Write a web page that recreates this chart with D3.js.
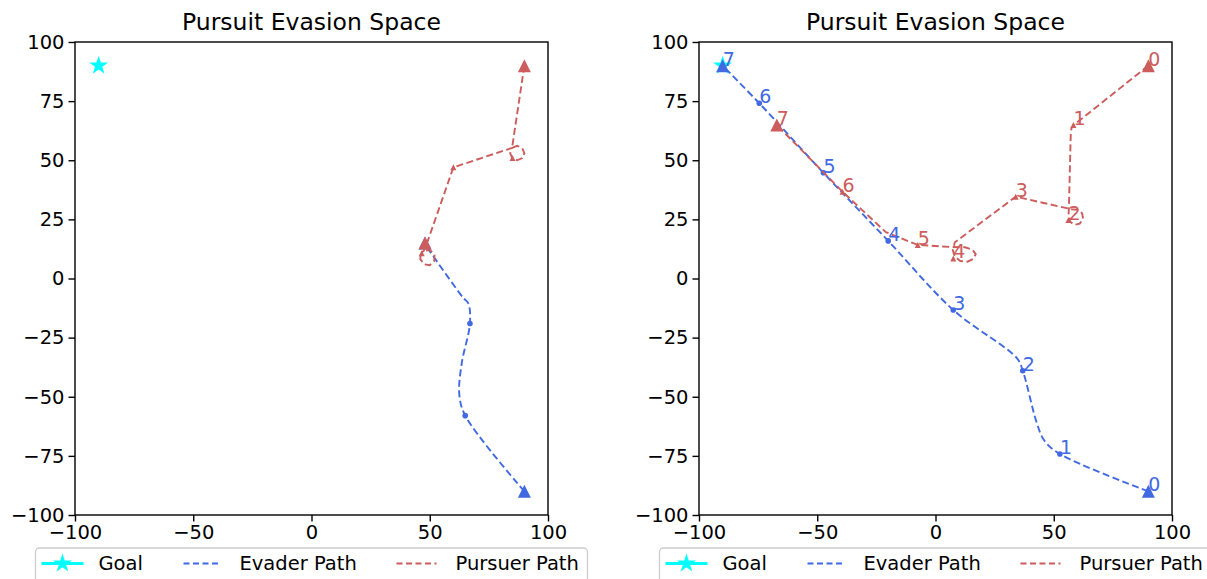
<!DOCTYPE html>
<html>
<head>
<meta charset="utf-8">
<script src="https://d3js.org/d3.v7.min.js"></script>
<style>
  body { margin: 0; background: #fff; }
  text { font-family: "DejaVu Sans", sans-serif; }
</style>
</head>
<body>
<div id="chart"></div>
<script>
const xTicks = [-100, -50, 0, 50, 100];
const yTicks = [-100, -75, -50, -25, 0, 25, 50, 75, 100];
const titleText = 'Pursuit Evasion Space';
const legendLabels = ['Goal', 'Evader Path', 'Pursuer Path'];
const goal = [-90, 90];

// left panel: waypoints (markers) and the drawn trace
const leftEvaderMarks = [[90, -90], [65, -58], [67, -19], [48, 15]];
const leftEvaderPath = [[90, -90], [65, -58], [62.5, -49], [63.5, -36], [67, -19], [66.3, -10.5], [64, -8], [49, 13]];
const leftPursuerMarks = [[90, 90], [85, 51], [60, 47], [46.6, 10.7], [48, 15]];
const leftPursuerPath = [[90, 90], [84.8, 55.2], [87, 56.1], [89.1, 55.1], [90, 53], [89.1, 50.9], [87, 50], [84.9, 50.9], [84, 53], [84.8, 55.2],
  [60, 47], [48.5, 14], [47.5, 11.8], [46.2, 10.6], [46, 8.2], [47.6, 6], [50, 5.6], [51.9, 7.4], [52, 10], [50.2, 12], [47.5, 11.8]];

// right panel
const rightEvaderMarks = [[90, -90], [52.6, -74.2], [36.9, -39], [7.5, -13.3], [-20, 15.9], [-47.4, 44.7], [-74.5, 74.1], [-90, 90]];
const rightEvaderPath = [[90, -90], [52.6, -74.2], [46, -68.5], [42.8, -61], [36.9, -39], [34.5, -33.8], [7.5, -13.3],
  [-20, 15.9], [-47.4, 44.7], [-74.5, 74.1], [-90, 90]];
const rightPursuerMarks = [[90, 90], [58.3, 64.9], [56.2, 24.7], [33.9, 34.6], [7.5, 8.5], [-7.5, 14.2], [-39.3, 36.7], [-67.1, 64.9]];
const rightPursuerPath = [[90, 90], [58.6, 65], [57.5, 63.6], [57.2, 61.5], [56.4, 29.5], [56.2, 26.5], [56.9, 24], [58.8, 22.7], [61, 23.2],
  [62.4, 25.3], [62, 27.6], [60.2, 29], [57.5, 29.3], [33.9, 34.6], [8.2, 15.3], [7.3, 12], [8.2, 9.2], [10.5, 7.4], [13.5, 7.1],
  [16, 8.3], [17, 10.3], [15.6, 12.2], [12.5, 13.2], [7, 13.3], [-7.5, 14.2], [-21, 19.6], [-39.3, 36.7], [-67.1, 64.9]];

const panels = [
  { left: 75, evMarks: leftEvaderMarks, evPath: leftEvaderPath, puMarks: leftPursuerMarks, puPath: leftPursuerPath, labels: false },
  { left: 699, evMarks: rightEvaderMarks, evPath: rightEvaderPath, puMarks: rightPursuerMarks, puPath: rightPursuerPath, labels: true }
];

const width = 1207, height = 579;
const plotTop = 42, size = 473;
const blue = '#4169e1', red = '#cd5c5c', cyan = '#00ffff';

const svg = d3.select('#chart').append('svg')
  .attr('width', width).attr('height', height);

const x = d3.scaleLinear().domain([-100, 100]).range([0, size]);
const y = d3.scaleLinear().domain([-100, 100]).range([size, 0]);

function tri(h) {
  return `M0,${-h}L${h},${h}L${-h},${h}Z`;
}
function star(r) {
  const pts = [];
  for (let i = 0; i < 10; i++) {
    const rr = i % 2 ? r * 0.382 : r;
    const a = -Math.PI / 2 + i * Math.PI / 5;
    pts.push([rr * Math.cos(a), rr * Math.sin(a)]);
  }
  return 'M' + pts.map(p => p.join(',')).join('L') + 'Z';
}

const smoothLine = d3.line().x(d => x(d[0])).y(d => y(d[1])).curve(d3.curveCatmullRom.alpha(0.5));
const straightLine = d3.line().x(d => x(d[0])).y(d => y(d[1]));

panels.forEach(p => {
  const g = svg.append('g').attr('transform', `translate(${p.left},${plotTop})`);

  g.append('text')
    .attr('x', size / 2).attr('y', -12)
    .attr('text-anchor', 'middle')
    .style('font-size', '23.5px')
    .text(titleText);

  const xa = g.append('g').attr('transform', `translate(0,${size})`)
    .call(d3.axisBottom(x).tickValues(xTicks).tickSize(6.5).tickPadding(4));
  const ya = g.append('g')
    .call(d3.axisLeft(y).tickValues(yTicks).tickSize(6.5).tickPadding(4));
  [xa, ya].forEach(a => {
    a.select('.domain').remove();
    a.attr('font-size', 19.5).attr('font-family', '"DejaVu Sans", sans-serif');
    a.selectAll('line').attr('stroke', '#000').attr('stroke-width', 1.4);
    a.selectAll('text').attr('fill', '#000');
  });

  // goal
  g.append('path').attr('d', star(10))
    .attr('transform', `translate(${x(goal[0])},${y(goal[1])})`)
    .attr('fill', cyan);

  const series = [
    { marks: p.evMarks, path: p.evPath, color: blue, small: 'dot', line: smoothLine },
    { marks: p.puMarks, path: p.puPath, color: red, small: 'tri', line: straightLine }
  ];
  series.forEach(s => {
    g.append('path').datum(s.path)
      .attr('d', s.line)
      .attr('fill', 'none')
      .attr('stroke', s.color)
      .attr('stroke-width', 1.9)
      .attr('stroke-dasharray', '7,3.5');
    const n = s.marks.length;
    s.marks.forEach((m, i) => {
      const big = i === 0 || i === n - 1;
      if (big) {
        g.append('path').attr('d', tri(6.5))
          .attr('transform', `translate(${x(m[0])},${y(m[1])})`)
          .attr('fill', s.color);
      } else if (s.small === 'dot') {
        g.append('circle').attr('cx', x(m[0])).attr('cy', y(m[1]))
          .attr('r', 2.8).attr('fill', s.color);
      } else {
        g.append('path').attr('d', tri(3))
          .attr('transform', `translate(${x(m[0])},${y(m[1])})`)
          .attr('fill', s.color);
      }
    });
  });

  if (p.labels) {
    series.forEach(s => {
      g.selectAll(null).data(s.marks).enter().append('text')
        .attr('x', d => x(d[0])).attr('y', d => y(d[1]))
        .style('font-size', '19px')
        .attr('fill', s.color)
        .text((d, i) => i);
    });
  }

  g.append('rect')
    .attr('width', size).attr('height', size)
    .attr('fill', 'none').attr('stroke', '#000').attr('stroke-width', 1.4);

  // legend
  const lg = svg.append('g').attr('transform', `translate(${p.left + size / 2 - 276},548)`);
  lg.append('rect').attr('x', 0).attr('y', 0).attr('width', 552).attr('height', 50)
    .attr('rx', 4).attr('fill', '#fff').attr('fill-opacity', 0.8)
    .attr('stroke', '#cccccc').attr('stroke-width', 1.3);
  const ly = 15.5;
  lg.append('line').attr('x1', 6).attr('x2', 48).attr('y1', ly).attr('y2', ly)
    .attr('stroke', cyan).attr('stroke-width', 3);
  lg.append('path').attr('d', star(10)).attr('transform', `translate(27,${ly})`).attr('fill', cyan);
  lg.append('line').attr('x1', 148).attr('x2', 186).attr('y1', ly).attr('y2', ly)
    .attr('stroke', blue).attr('stroke-width', 1.9).attr('stroke-dasharray', '6,3.5');
  lg.append('line').attr('x1', 361).attr('x2', 401).attr('y1', ly).attr('y2', ly)
    .attr('stroke', red).attr('stroke-width', 1.9).attr('stroke-dasharray', '6,3.5');
  [63, 204, 420].forEach((lx, i) => {
    lg.append('text').attr('x', lx).attr('y', ly).attr('dy', '0.35em')
      .style('font-size', '19.5px').text(legendLabels[i]);
  });
});
</script>
</body>
</html>
